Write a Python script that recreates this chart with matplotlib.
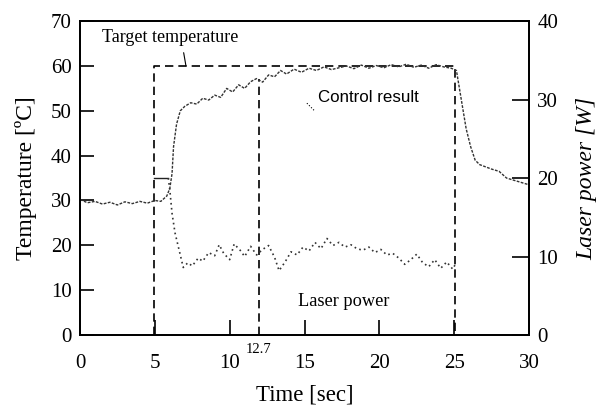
import numpy as np
import matplotlib.pyplot as plt

plt.rcParams['font.family'] = ['Liberation Serif', 'DejaVu Serif']

# control result (measured temperature) [degC]
ctrl_t = [0, 0.5, 1, 1.5, 2, 2.5, 3, 3.5, 4, 4.5, 5, 5.4, 5.8, 6.0, 6.15, 6.25,
          6.45, 6.7, 7.0, 7.4, 7.8, 8.2, 8.6, 9.0, 9.4, 9.8, 10.2, 10.6, 11.0,
          11.4, 11.8, 12.2, 12.6, 13.0, 13.4, 13.8, 14.3, 14.8, 15.3, 15.8,
          16.3, 16.8, 17.3, 17.8, 18.3, 18.8, 19.3, 19.8, 20.3, 20.8, 21.3,
          21.8, 22.3, 22.8, 23.3, 23.8, 24.3, 24.8, 25.15, 25.5, 25.8, 26.1,
          26.4, 26.7, 27.1, 27.5, 28, 28.5, 29, 29.5, 30]
ctrl_temp = [30.2, 29.5, 29.8, 29.2, 29.6, 29.0, 29.7, 29.3, 29.8, 29.4, 30.0,
             29.8, 31.0, 32.7, 36, 42, 47, 50, 51, 51.8, 51.5, 52.8, 52.4,
             53.5, 53, 55, 54.2, 55.8, 55, 56.5, 57.2, 56.4, 58, 57.6, 59, 58.2,
             59.3, 58.6, 59.5, 59, 59.8, 59.2, 59.6, 60, 59.4, 60.2, 59.5, 60.1,
             59.6, 60.3, 59.8, 60.4, 59.7, 60.2, 59.5, 60.3, 59.8, 59.5, 59, 52,
             46, 42, 39, 38, 37.5, 37, 36.5, 35, 34.5, 34, 33.5]

# laser power [W]
laser_t = [4.95, 5.9, 6.0, 6.15, 6.35, 6.9, 7.2, 7.5, 7.9, 8.2, 8.6, 9.0, 9.3,
           9.6, 10.0, 10.3, 10.7, 11.0, 11.4, 11.8, 12.2, 12.6, 13.0, 13.3,
           13.7, 14.1, 14.5, 14.9, 15.3, 15.7, 16.1, 16.5, 16.9, 17.3, 17.7,
           18.1, 18.5, 18.9, 19.3, 19.7, 20.1, 20.5, 20.9, 21.3, 21.7, 22.1,
           22.5, 22.9, 23.3, 23.7, 24.1, 24.5, 24.9, 25.05]
laser_w = [20, 20, 18.5, 15.5, 13.0, 8.6, 9.2, 8.8, 9.8, 9.4, 10.5, 10.1, 11.5,
           10.4, 9.6, 11.6, 10.8, 10.0, 11.3, 10.2, 10.9, 11.4, 9.9, 8.2, 9.3,
           10.6, 10.2, 11.2, 10.7, 11.8, 11.0, 12.3, 11.4, 11.8, 11.2, 11.5,
           11.0, 10.8, 11.2, 10.5, 10.9, 10.2, 10.4, 9.8, 9.0, 9.6, 10.3, 9.2,
           8.7, 9.6, 8.5, 9.3, 8.4, 8.9]

# target temperature profile
target_t = [4.95, 4.95, 25.05, 25.05]
target_temp = [0, 60, 60, 0]

# marker line (drawn where the original puts it, labelled 12.7)
mark_t = 11.95
mark_temp = 57
mark_label = '12.7'

fig = plt.figure(figsize=(6.13, 4.07), dpi=100)
ax = fig.add_axes([0.1305, 0.177, 0.7325, 0.771])
ax2 = ax.twinx()

dash = (0, (5, 3))
ax.plot(target_t, target_temp, color='black', lw=1.2, linestyle=dash)
ax.plot([mark_t, mark_t], [0, mark_temp], color='black', lw=1.2, linestyle=dash)
ax.plot(ctrl_t, ctrl_temp, color='#333333', lw=1.0, linestyle=(0, (2, 1)))

ax2.plot(laser_t[:2], laser_w[:2], color='#222222', lw=1.0)
ax2.plot(laser_t[1:], laser_w[1:], color='#333333', lw=1.2, linestyle=(0, (1, 2)))

ax.set_xlim(0, 30)
ax.set_ylim(0, 70)
ax2.set_ylim(0, 40)
ax.set_xticks([0, 5, 10, 15, 20, 25, 30])
ax.set_yticks([0, 10, 20, 30, 40, 50, 60, 70])
ax2.set_yticks([0, 10, 20, 30, 40])

ax.tick_params(axis='y', direction='in', length=10, width=1.2, labelsize=15, pad=6)
ax.tick_params(axis='x', direction='in', length=11, width=1.2, labelsize=15, pad=14)
ax2.tick_params(axis='y', direction='in', length=12.5, width=1.2, labelsize=15, pad=6)
for a in (ax, ax2):
    for s in a.spines.values():
        s.set_linewidth(1.3)

ax.set_xlabel('Time [sec]', fontsize=16.5, labelpad=8)
ax.set_ylabel('Temperature [ºC]', fontsize=17, labelpad=10)
ax2.set_ylabel('Laser power [W]', fontsize=17, style='italic', rotation=90, labelpad=13)

ax.text(mark_t, -0.045, mark_label, transform=ax.get_xaxis_transform(),
        ha='center', va='center', fontsize=10.5)

ax.annotate('Target temperature', xy=(7.08, 60), xytext=(1.47, 66.4),
            fontsize=13, va='center',
            arrowprops=dict(arrowstyle='-', color='black', lw=0.8,
                            shrinkA=3, shrinkB=0, relpos=(0.59, 0)))
ax.plot([15.16, 15.7], [51.7, 49.9], color='black', lw=0.8, linestyle=':')
ax.text(15.9, 53.0, 'Control result', fontsize=12.2, va='center',
        family=['Liberation Sans', 'DejaVu Sans'])
ax.text(14.56, 7.4, 'Laser power', fontsize=13.2, va='center')

fig.savefig('out.png', dpi=100)
